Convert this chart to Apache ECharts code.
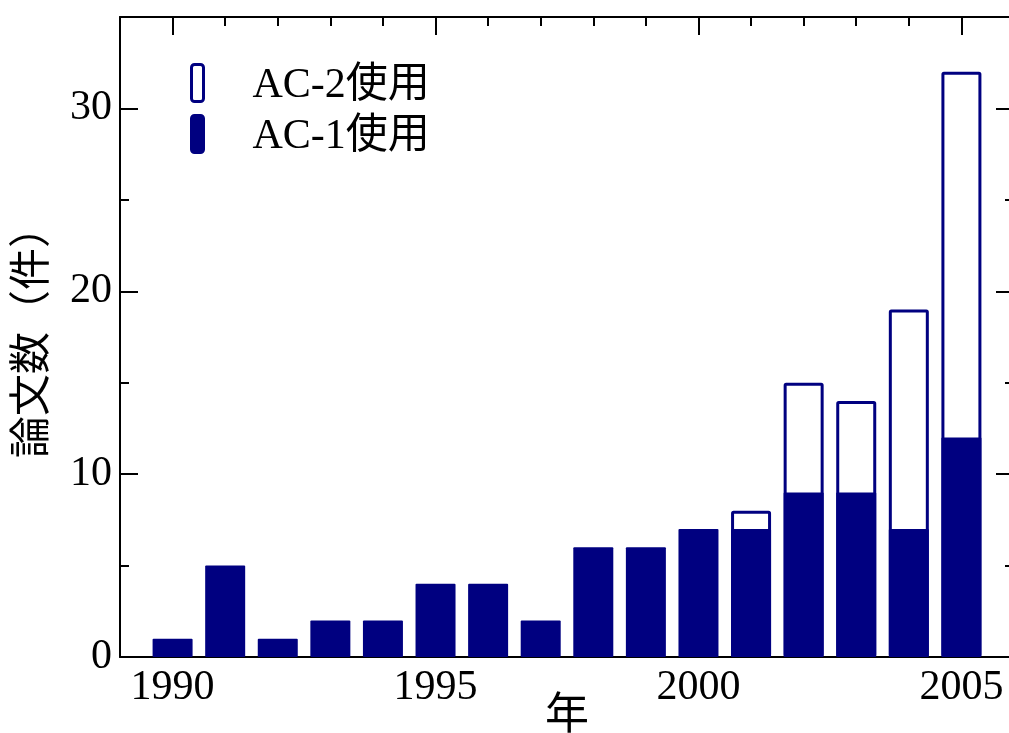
<!DOCTYPE html>
<html>
<head>
<meta charset="utf-8">
<script src="https://cdn.jsdelivr.net/npm/echarts@6/dist/echarts.min.js"></script>
<style>html,body{margin:0;padding:0;background:#fff}#c{width:1009px;height:733px}</style>
</head>
<body>
<div id="c"></div>
<script>
const years = [1990,1991,1992,1993,1994,1995,1996,1997,1998,1999,2000,2001,2002,2003,2004,2005];
const ac1 = [1,5,1,2,2,4,4,2,6,6,7,7,9,9,7,12];
const ac2 = [0,0,0,0,0,0,0,0,0,0,0,1,6,5,12,20];
const xMajorTicks = [1990,1995,2000,2005];
const xMinorTicks = [1991,1992,1993,1994,1996,1997,1998,1999,2001,2002,2003,2004];
const yMajorTicks = [0,10,20,30];
const yMinorTicks = [5,15,25];
const seriesNames = ['AC-1使用','AC-2使用'];
const axisNames = {x:'年', y:'論文数（件）'};

const NAVY = '#000080';
const FONT = "'Liberation Serif','Noto Sans CJK JP',serif";
const ac1Data = years.map((y,i)=>[y, ac1[i]]);
const totalData = years.map((y,i)=>[y, ac1[i]+ac2[i]]).filter((d,i)=>ac2[i]>0);

const X0 = 1989, X1 = 2006;
const tickStyle = {color:'#000', width:2};
const lineOn = {show:true, onZero:false, lineStyle:{color:'#000', width:2}};
const lineOff = {show:false, onZero:false};
function xAx(opts){
  return Object.assign({
    type:'value', min:X0, max:X1, interval:1, splitLine:{show:false},
    axisLine:lineOn, axisLabel:{show:false}, axisTick:{show:false}, minorTick:{show:false}
  }, opts);
}
function yAx(opts){
  return Object.assign({
    type:'value', min:0, max:35, interval:5, splitLine:{show:false},
    axisLine:lineOn, axisLabel:{show:false}, axisTick:{show:false}, minorTick:{show:false}
  }, opts);
}

const gridPos = {left:120, right:-5, top:17, bottom:76, containLabel:false, outerBoundsMode:'none'};
const chart = echarts.init(document.getElementById('c'), null, {renderer:'canvas'});
chart.setOption({
  animation:false,
  backgroundColor:'#fff',
  grid:[Object.assign({}, gridPos), Object.assign({}, gridPos)],
  legend:{
    orient:'vertical', left:190, top:62, padding:0, itemGap:6,
    itemWidth:12, itemHeight:37,
    formatter: n => '{g|}{t|' + n + '}',
    textStyle:{fontFamily:FONT, fontSize:42, color:'#000',
      rich:{g:{width:44}, t:{fontFamily:FONT, fontSize:42, color:'#000', padding:[6,0,0,0]}}},
    data:[
      {name:seriesNames[1], itemStyle:{color:'#fff', borderColor:NAVY, borderWidth:3}},
      {name:seriesNames[0], itemStyle:{color:NAVY, borderColor:NAVY, borderWidth:3}}
    ]
  },
  xAxis:[
    xAx({gridIndex:0, position:'bottom',
      name:axisNames.x, nameLocation:'middle', nameGap:38, nameMoveOverlap:false,
      nameTextStyle:{fontFamily:FONT, fontSize:44, color:'#000'},
      axisLabel:{show:true, customValues:xMajorTicks, margin:10, fontFamily:FONT, fontSize:42, color:'#000', formatter:v=>String(v)}}),
    xAx({gridIndex:0, position:'top',
      axisTick:{show:true, inside:true, customValues:xMajorTicks, length:18, lineStyle:tickStyle}}),
    xAx({gridIndex:1, position:'top', axisLine:lineOff,
      axisTick:{show:true, inside:true, customValues:xMinorTicks, length:9, lineStyle:tickStyle}})
  ],
  yAxis:[
    yAx({gridIndex:0, position:'left',
      name:axisNames.y, nameLocation:'middle', nameGap:65, nameRotate:90, nameMoveOverlap:false,
      nameTextStyle:{fontFamily:FONT, fontSize:42, color:'#000', padding:[0,0,0,10]},
      axisLabel:{show:true, customValues:yMajorTicks, margin:8, fontFamily:FONT, fontSize:42, color:'#000', formatter:v=>String(v)},
      axisTick:{show:true, inside:true, customValues:yMajorTicks, length:18, lineStyle:tickStyle}}),
    yAx({gridIndex:0, position:'right',
      axisTick:{show:true, inside:true, customValues:yMajorTicks, length:18, lineStyle:tickStyle}}),
    yAx({gridIndex:1, position:'left', axisLine:lineOff,
      axisTick:{show:true, inside:true, customValues:yMinorTicks, length:9, lineStyle:tickStyle}}),
    yAx({gridIndex:1, position:'right', axisLine:lineOff,
      axisTick:{show:true, inside:true, customValues:yMinorTicks, length:9, lineStyle:tickStyle}})
  ],
  series:[
    {
      name:seriesNames[1], type:'bar', xAxisIndex:1, yAxisIndex:0,
      data: totalData, barWidth:40, z:2,
      itemStyle:{color:'#fff', borderColor:NAVY, borderWidth:3, borderRadius:1}
    },
    {
      name:seriesNames[0], type:'bar', xAxisIndex:0, yAxisIndex:0,
      data: ac1Data, barWidth:40, z:3,
      itemStyle:{color:NAVY, borderRadius:1}
    }
  ]
});
</script>
</body>
</html>
